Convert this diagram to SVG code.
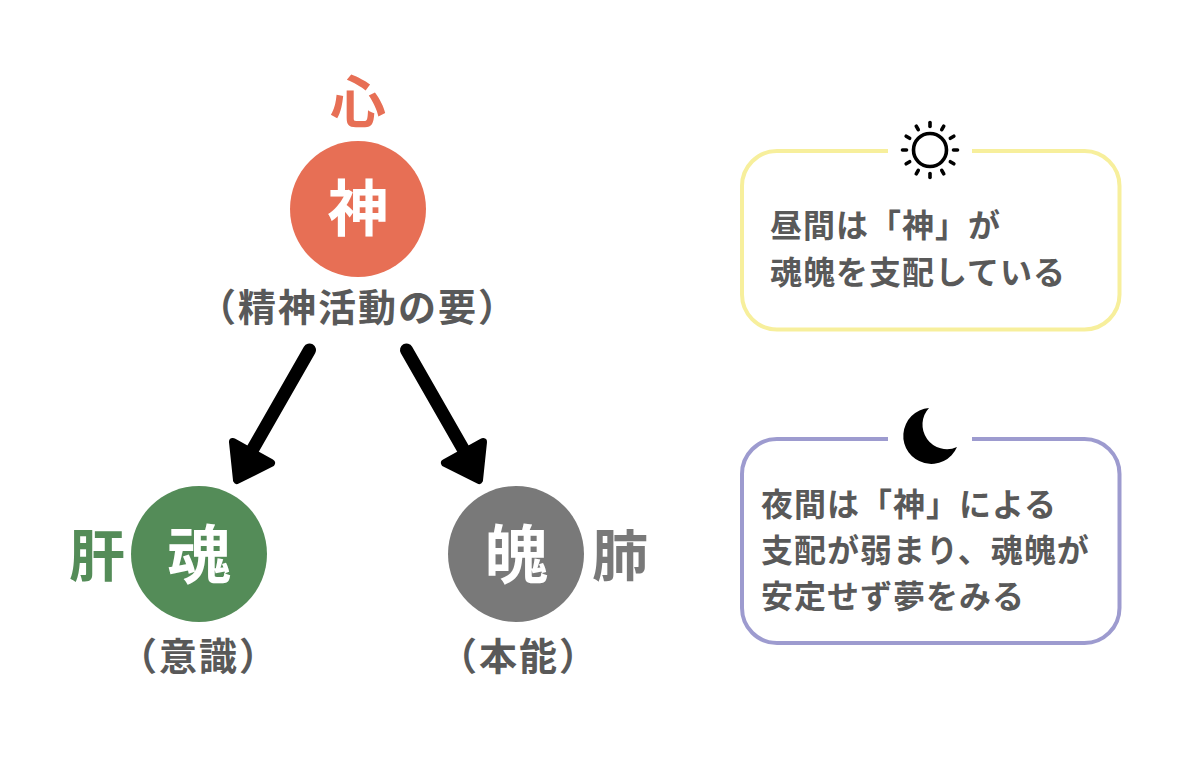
<svg xmlns="http://www.w3.org/2000/svg" width="1200" height="780" viewBox="0 0 1200 780">
<style>
text{font-family:"Noto Sans CJK JP","Noto Sans",sans-serif;font-weight:700}
.lab{font-size:38px;letter-spacing:2px;fill:#595959}
.note{font-size:32px;letter-spacing:1px;fill:#595959}
.big{font-size:61px;fill:#fff;text-anchor:middle}
.big2{font-size:64px;fill:#fff;text-anchor:middle}
.side{font-size:56px;text-anchor:middle}
.arrow{fill:none;stroke:#000;stroke-width:13;stroke-linecap:round}
.head{fill:#000;stroke:#000;stroke-width:8;stroke-linejoin:round}
.box{fill:none;stroke-width:4}
.ray{stroke:#000;stroke-width:3.6;stroke-linecap:round}
</style>
<g id="connectors">
<path class="arrow" d="M309.500 350 L250 454"/>
<path class="head" d="M233 442 L271 463 L237 480 Z"/>
<path class="arrow" d="M406.500 350 L466 454"/>
<path class="head" d="M483 442 L445 463 L479 480 Z"/>
</g>
<g id="node-shin">
<text class="side" x="358" y="122" style="fill:#e76f55">心</text>
<circle cx="358" cy="209" r="68" fill="#e76f55"/>
<text class="big" x="358" y="231">神</text>
<text class="lab" x="198" y="321">（精神活動の要）</text>
</g>
<g id="node-kon">
<text class="side" x="97" y="576" style="fill:#548c58">肝</text>
<circle cx="199" cy="554" r="68" fill="#548c58"/>
<text class="big2" x="199" y="578">魂</text>
<text class="lab" x="119" y="670">（意識）</text>
</g>
<g id="node-haku">
<circle cx="516" cy="554" r="68" fill="#797979"/>
<text class="big2" x="516" y="578">魄</text>
<text class="side" x="620" y="576" style="fill:#797979">肺</text>
<text class="lab" x="439" y="670">（本能）</text>
</g>
<g id="node-day">
<path class="box" stroke="#f7ef9c" d="M888 151 H777 A35 35 0 0 0 742 186 V294 A35 35 0 0 0 777 329.500 H1084 A35 35 0 0 0 1119.500 294 V186 A35 35 0 0 0 1084 151 H972"/>
<circle cx="930" cy="150" r="16.500" fill="none" stroke="#000" stroke-width="3.600"/>
<g transform="translate(930 150)">
<line class="ray" y1="-23.500" y2="-27.500"/>
<line class="ray" y1="-23.500" y2="-27.500" transform="rotate(30)"/>
<line class="ray" y1="-23.500" y2="-27.500" transform="rotate(60)"/>
<line class="ray" y1="-23.500" y2="-27.500" transform="rotate(90)"/>
<line class="ray" y1="-23.500" y2="-27.500" transform="rotate(120)"/>
<line class="ray" y1="-23.500" y2="-27.500" transform="rotate(150)"/>
<line class="ray" y1="-23.500" y2="-27.500" transform="rotate(180)"/>
<line class="ray" y1="-23.500" y2="-27.500" transform="rotate(210)"/>
<line class="ray" y1="-23.500" y2="-27.500" transform="rotate(240)"/>
<line class="ray" y1="-23.500" y2="-27.500" transform="rotate(270)"/>
<line class="ray" y1="-23.500" y2="-27.500" transform="rotate(300)"/>
<line class="ray" y1="-23.500" y2="-27.500" transform="rotate(330)"/>
</g>
<text class="note" x="770" y="237">昼間は「神」が</text>
<text class="note" x="770" y="284">魂魄を支配している</text>
</g>
<g id="node-night">
<path class="box" stroke="#9d9bcf" d="M888 439 H777 A35 35 0 0 0 742 474 V608 A35 35 0 0 0 777 643 H1084 A35 35 0 0 0 1119.500 608 V474 A35 35 0 0 0 1084 439 H972"/>
<path fill="#000" d="M929 408 A28 28 0 1 0 957 447 A24.500 24.500 0 0 1 929 408 Z"/>
<text class="note" x="761" y="516">夜間は「神」による</text>
<text class="note" x="761" y="562">支配が弱まり、魂魄が</text>
<text class="note" x="761" y="608">安定せず夢をみる</text>
</g>
</svg>
